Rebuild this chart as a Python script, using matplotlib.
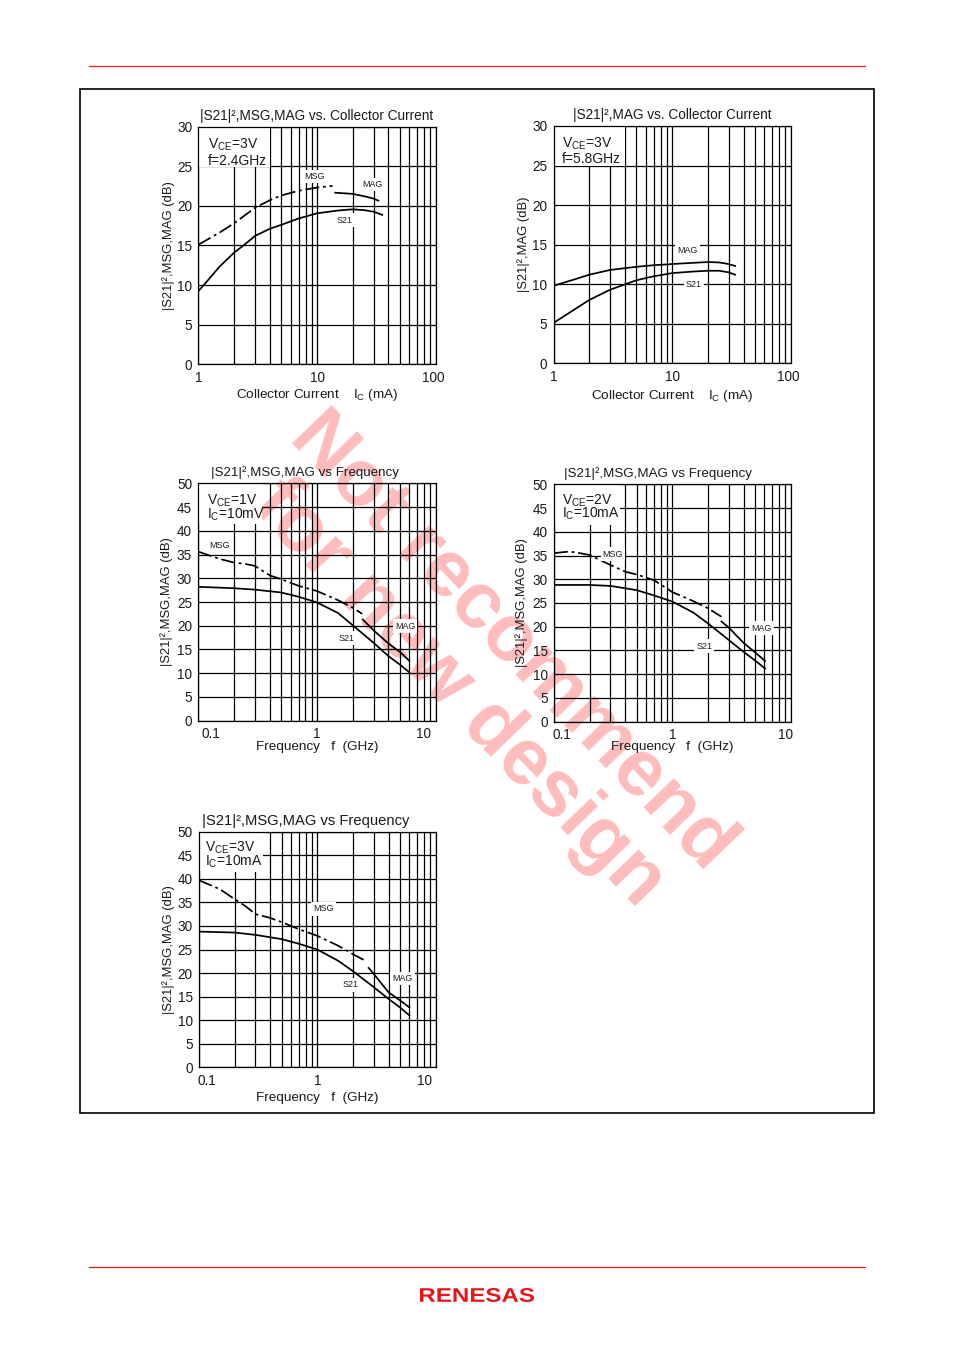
import numpy as np
import matplotlib
matplotlib.use("Agg")
import matplotlib.pyplot as plt
from matplotlib.transforms import blended_transform_factory, offset_copy
from matplotlib.ticker import LogLocator, NullFormatter, FixedLocator
from matplotlib.textpath import TextPath
from matplotlib.patches import PathPatch
from matplotlib.font_manager import FontProperties

plt.rcParams['font.family'] = ['Liberation Sans', 'DejaVu Sans']
plt.rcParams['mathtext.fontset'] = 'custom'
plt.rcParams['mathtext.rm'] = 'Liberation Sans'
plt.rcParams['mathtext.it'] = 'Liberation Sans:italic'
plt.rcParams['mathtext.bf'] = 'Liberation Sans:bold'

TXT = '#1a1a1a'

# ---------------- data ----------------
# Panel 1: Vce=3V, f=2.4GHz vs collector current
p1_ic_msg = [1, 1.5, 2, 3, 4, 5, 7, 10, 13.5]
p1_msg = [15.1, 16.6, 17.8, 19.75, 20.7, 21.3, 21.9, 22.3, 22.5]
p1_ic_mag = [14.2, 20, 25, 30, 32.9]
p1_mag = [21.65, 21.5, 21.2, 20.9, 20.65]
p1_ic_s21 = [1, 1.2, 1.5, 2, 2.4, 3, 4, 5, 7, 10, 15, 20, 25, 30, 35.5]
p1_s21 = [9.25, 10.6, 12.3, 14.1, 15.0, 16.2, 17.1, 17.6, 18.4, 19.05, 19.4, 19.55, 19.45, 19.25, 18.85]

# Panel 2: Vce=3V, f=5.8GHz vs collector current
p2_ic_mag = [1, 1.5, 2, 3, 5, 7, 10, 15, 20, 25, 30, 34]
p2_mag = [9.8, 10.6, 11.2, 11.8, 12.2, 12.4, 12.55, 12.7, 12.8, 12.75, 12.55, 12.3]
p2_ic_s21 = [1, 1.5, 2, 3, 5, 7, 10, 15, 20, 25, 30, 34]
p2_s21 = [5.1, 6.8, 8.0, 9.3, 10.5, 11.0, 11.4, 11.6, 11.7, 11.7, 11.5, 11.2]

# Panel 3: Vce=1V, Ic=10mA vs frequency
p3_f_msg = [0.1, 0.15, 0.2, 0.25, 0.3, 0.4, 0.5, 0.7, 1, 1.5, 2, 2.4]
p3_msg = [35.6, 34.1, 33.3, 33.0, 32.6, 30.6, 29.8, 28.4, 27.3, 25.4, 23.8, 22.5]
p3_f_mag = [2.43, 3.04, 3.94, 5.1, 6.0]
p3_mag = [21.3, 18.9, 16.4, 14.3, 12.6]
p3_f_s21 = [0.1, 0.2, 0.3, 0.5, 0.7, 1, 1.5, 2, 3, 4, 5, 6.0]
p3_s21 = [28.2, 27.9, 27.6, 27.0, 26.1, 24.9, 22.7, 20.1, 16.4, 13.6, 11.8, 10.2]

# Panel 4: Vce=2V, Ic=10mA vs frequency
p4_f_msg = [0.1, 0.13, 0.15, 0.2, 0.3, 0.4, 0.5, 0.7, 1, 1.5, 2, 2.6]
p4_msg = [35.5, 35.8, 35.7, 35.1, 33.0, 31.6, 31.0, 29.8, 27.3, 25.4, 23.9, 22.1]
p4_f_mag = [2.6, 3, 4, 5, 6.07]
p4_mag = [21.1, 19.8, 16.6, 14.6, 12.8]
p4_f_s21 = [0.1, 0.2, 0.3, 0.5, 0.7, 1, 1.5, 2, 3, 4, 5, 6.07]
p4_s21 = [28.8, 28.8, 28.6, 27.7, 26.6, 25.3, 23.0, 20.7, 17.2, 14.7, 12.9, 11.2]

# Panel 5: Vce=3V, Ic=10mA vs frequency
p5_f_msg = [0.1, 0.15, 0.2, 0.25, 0.3, 0.4, 0.5, 0.7, 1, 1.5, 2, 2.59]
p5_msg = [39.7, 37.8, 35.7, 34.1, 32.5, 31.7, 30.8, 29.3, 27.9, 25.8, 24.0, 22.5]
p5_f_mag = [2.71, 3, 4, 5, 6.0]
p5_mag = [21.1, 19.8, 15.9, 14.2, 12.7]
p5_f_s21 = [0.1, 0.2, 0.3, 0.5, 0.7, 1, 1.5, 2, 3, 4, 5, 6.0]
p5_s21 = [28.8, 28.6, 28.1, 27.2, 26.2, 25.0, 22.6, 20.4, 17.0, 14.5, 12.7, 11.0]

ic_ticks = [1, 10, 100]
ic_ticklabels = ['1', '10', '100']
f_ticks = [0.1, 1, 10]
f_ticklabels = ['0.1', '1', '10']
gain_ticks_30 = [0, 5, 10, 15, 20, 25, 30]
gain_ticks_50 = [0, 5, 10, 15, 20, 25, 30, 35, 40, 45, 50]

W, H = 954, 1351
fig = plt.figure(figsize=(W / 100, H / 100), dpi=100)


def px_axes(x0, x1, ytop, ybot):
    return fig.add_axes([x0 / W, 1 - ybot / H, (x1 - x0) / W, (ybot - ytop) / H])


DASHDOT = (0, (8, 2.2, 1.6, 2.2))
LW = 1.25
TICK_FS = 9.8


def setup(ax, xlim, ylim, yticks, xticks, xticklabels, title, title_fs, xlabel, ylabel,
          ylabel_pad, first_dx, last_dx, xlabel_pad):
    ax.set_facecolor('none')
    ax.set_xscale('log')
    ax.set_xlim(*xlim)
    ax.set_ylim(*ylim)
    ax.xaxis.set_major_locator(FixedLocator(xticks))
    ax.xaxis.set_minor_locator(LogLocator(base=10, subs=np.arange(2, 10)))
    ax.xaxis.set_major_formatter(NullFormatter())
    ax.xaxis.set_minor_formatter(NullFormatter())
    ax.set_yticks(yticks)
    ax.tick_params(which='both', length=0)
    ax.tick_params(axis='y', labelsize=TICK_FS, pad=4.5, labelcolor=TXT)
    ax.grid(True, which='both', color='black', lw=0.9, zorder=0)
    ax.set_axisbelow(True)
    for s in ax.spines.values():
        s.set_color('black')
        s.set_linewidth(0.9)
    tr = blended_transform_factory(ax.transData, ax.transAxes)
    n = len(xticks)
    for i, (v, lab) in enumerate(zip(xticks, xticklabels)):
        dx = first_dx if i == 0 else (last_dx if i == n - 1 else 0)
        t = offset_copy(tr, fig=fig, x=dx, y=-6.5, units='dots')
        ax.text(v, 0, lab, transform=t, ha='center', va='top', fontsize=TICK_FS, color=TXT)
    ax.set_title(title, fontsize=title_fs, color=TXT, pad=5)
    ax.set_xlabel(xlabel, fontsize=9.7, color=TXT, labelpad=xlabel_pad)
    ax.set_ylabel(ylabel, fontsize=9.4, color=TXT, labelpad=ylabel_pad)


def cond(ax, line1, line2, x, y1, y2, box):
    ax.add_patch(plt.Rectangle((box[0], box[1]), box[2], box[3], transform=ax.transAxes,
                               facecolor='white', edgecolor='none', zorder=1.5))
    ax.text(x, y1, line1, transform=ax.transAxes, fontsize=10, color=TXT, va='baseline', zorder=3)
    ax.text(x, y2, line2, transform=ax.transAxes, fontsize=10, color=TXT, va='baseline', zorder=3)


def tag(ax, x, y, s):
    ax.text(x, y, s, fontsize=6.4, color=TXT, ha='center', va='center', zorder=3,
            bbox=dict(facecolor='white', edgecolor='none', pad=1.6))


S21T = '|S21|\u00b2'

# ---------------- Panel 1 ----------------
ax1 = px_axes(198.5, 435.6, 126.5, 364.3)
setup(ax1, (1, 100), (0, 30), gain_ticks_30, ic_ticks, ic_ticklabels,
      S21T + ',MSG,MAG vs. Collector Current', 9.8,
      'Collector Current    I$_\\mathrm{C}$ (mA)', S21T + ',MSG,MAG (dB)', 1.5, 0, -2, 13)
ax1.plot(p1_ic_msg, p1_msg, color='black', lw=LW, ls=DASHDOT, zorder=2)
ax1.plot(p1_ic_mag, p1_mag, color='black', lw=LW, zorder=2)
ax1.plot(p1_ic_s21, p1_s21, color='black', lw=LW, zorder=2)
cond(ax1, 'V$_\\mathrm{CE}$=3V', 'f=2.4GHz', 0.04, 0.905, 0.838, (0.0, 0.83, 0.30, 0.17))
tag(ax1, 9.6, 23.7, 'MSG')
tag(ax1, 29.1, 22.7, 'MAG')
tag(ax1, 17.2, 18.2, 'S21')

# ---------------- Panel 2 ----------------
ax2 = px_axes(553.5, 790.7, 126.0, 363.3)
setup(ax2, (1, 100), (0, 30), gain_ticks_30, ic_ticks, ic_ticklabels,
      S21T + ',MAG vs. Collector Current', 9.8,
      'Collector Current    I$_\\mathrm{C}$ (mA)', S21T + ',MAG (dB)', 1.5, 0, -2, 14)
ax2.plot(p2_ic_mag, p2_mag, color='black', lw=LW, zorder=2)
ax2.plot(p2_ic_s21, p2_s21, color='black', lw=LW, zorder=2)
cond(ax2, 'V$_\\mathrm{CE}$=3V', 'f=5.8GHz', 0.036, 0.908, 0.843, (0.0, 0.83, 0.30, 0.17))
tag(ax2, 13.4, 14.2, 'MAG')
tag(ax2, 15.3, 10.0, 'S21')

# ---------------- Panel 3 ----------------
ax3 = px_axes(198.3, 435.7, 483.3, 720.7)
setup(ax3, (0.1, 10), (0, 50), gain_ticks_50, f_ticks, f_ticklabels,
      S21T + ',MSG,MAG vs Frequency', 9.6,
      'Frequency   f  (GHz)', S21T + ',MSG,MAG (dB)', 2.7, 13, -12, 11)
ax3.title.set_x(0.45)
ax3.plot(p3_f_msg, p3_msg, color='black', lw=LW, ls=DASHDOT, zorder=2)
ax3.plot(p3_f_mag, p3_mag, color='black', lw=LW, zorder=2)
ax3.plot(p3_f_s21, p3_s21, color='black', lw=LW, zorder=2)
cond(ax3, 'V$_\\mathrm{CE}$=1V', 'I$_\\mathrm{C}$=10mV', 0.036, 0.909, 0.85, (0.0, 0.83, 0.27, 0.17))
tag(ax3, 0.152, 36.8, 'MSG')
tag(ax3, 5.51, 19.9, 'MAG')
tag(ax3, 1.79, 17.4, 'S21')

# ---------------- Panel 4 ----------------
ax4 = px_axes(554.0, 790.7, 484.3, 721.7)
setup(ax4, (0.1, 10), (0, 50), gain_ticks_50, f_ticks, f_ticklabels,
      S21T + ',MSG,MAG vs Frequency', 9.6,
      'Frequency   f  (GHz)', S21T + ',MSG,MAG (dB)', 3, 8, -5, 10.5)
ax4.title.set_x(0.44)
ax4.plot(p4_f_msg, p4_msg, color='black', lw=LW, ls=DASHDOT, zorder=2)
ax4.plot(p4_f_mag, p4_mag, color='black', lw=LW, zorder=2)
ax4.plot(p4_f_s21, p4_s21, color='black', lw=LW, zorder=2)
cond(ax4, 'V$_\\mathrm{CE}$=2V', 'I$_\\mathrm{C}$=10mA', 0.034, 0.916, 0.859, (0.0, 0.83, 0.28, 0.17))
tag(ax4, 0.315, 35.3, 'MSG')
tag(ax4, 5.64, 19.7, 'MAG')
tag(ax4, 1.86, 15.9, 'S21')

# ---------------- Panel 5 ----------------
ax5 = px_axes(199.0, 435.7, 831.7, 1067.3)
setup(ax5, (0.1, 10), (0, 50), gain_ticks_50, f_ticks, f_ticklabels,
      S21T + ',MSG,MAG vs Frequency', 10.6,
      'Frequency   f  (GHz)', S21T + ',MSG,MAG (dB)', 1.5, 7.5, -11, 14)
ax5.title.set_x(0.45)
ax5.plot(p5_f_msg, p5_msg, color='black', lw=LW, ls=DASHDOT, zorder=2)
ax5.plot(p5_f_mag, p5_mag, color='black', lw=LW, zorder=2)
ax5.plot(p5_f_s21, p5_s21, color='black', lw=LW, zorder=2)
cond(ax5, 'V$_\\mathrm{CE}$=3V', 'I$_\\mathrm{C}$=10mA', 0.025, 0.915, 0.854, (0.0, 0.83, 0.27, 0.17))
tag(ax5, 1.12, 33.6, 'MSG')
tag(ax5, 5.22, 18.9, 'MAG')
tag(ax5, 1.89, 17.5, 'S21')

# ---------------- page decoration ----------------
frame = fig.add_axes([0, 0, 1, 1], zorder=-5)
frame.set_xlim(0, W)
frame.set_ylim(H, 0)
frame.axis('off')
frame.plot([89, 865], [66, 66], color='#ff1a1a', lw=0.9)
frame.plot([89, 865], [1267, 1267], color='#d42020', lw=0.9)
frame.add_patch(plt.Rectangle((80.5, 88.5), 793.5, 1024, fill=False, edgecolor='black', lw=1.2))
frame.text(485, 668, 'Not recommend\nfor new design', rotation=-46, rotation_mode='anchor',
           ha='center', va='center', multialignment='center', fontsize=57, fontweight='bold',
           color='#ffbcbc', linespacing=1.0, zorder=-1)

# Renesas logo
lax = fig.add_axes([420 / W, 1 - 1302 / H, 114 / W, 14 / H])
lax.axis('off')
tp = TextPath((0, 0), 'RENESAS', size=10, prop=FontProperties(family='Liberation Sans', weight='bold'))
ext = tp.get_extents()
lax.add_patch(PathPatch(tp, facecolor='#e8141c', edgecolor='none'))
lax.set_xlim(ext.x0, ext.x1)
lax.set_ylim(ext.y0, ext.y1)

fig.savefig('out.png', dpi=100, facecolor='white')
